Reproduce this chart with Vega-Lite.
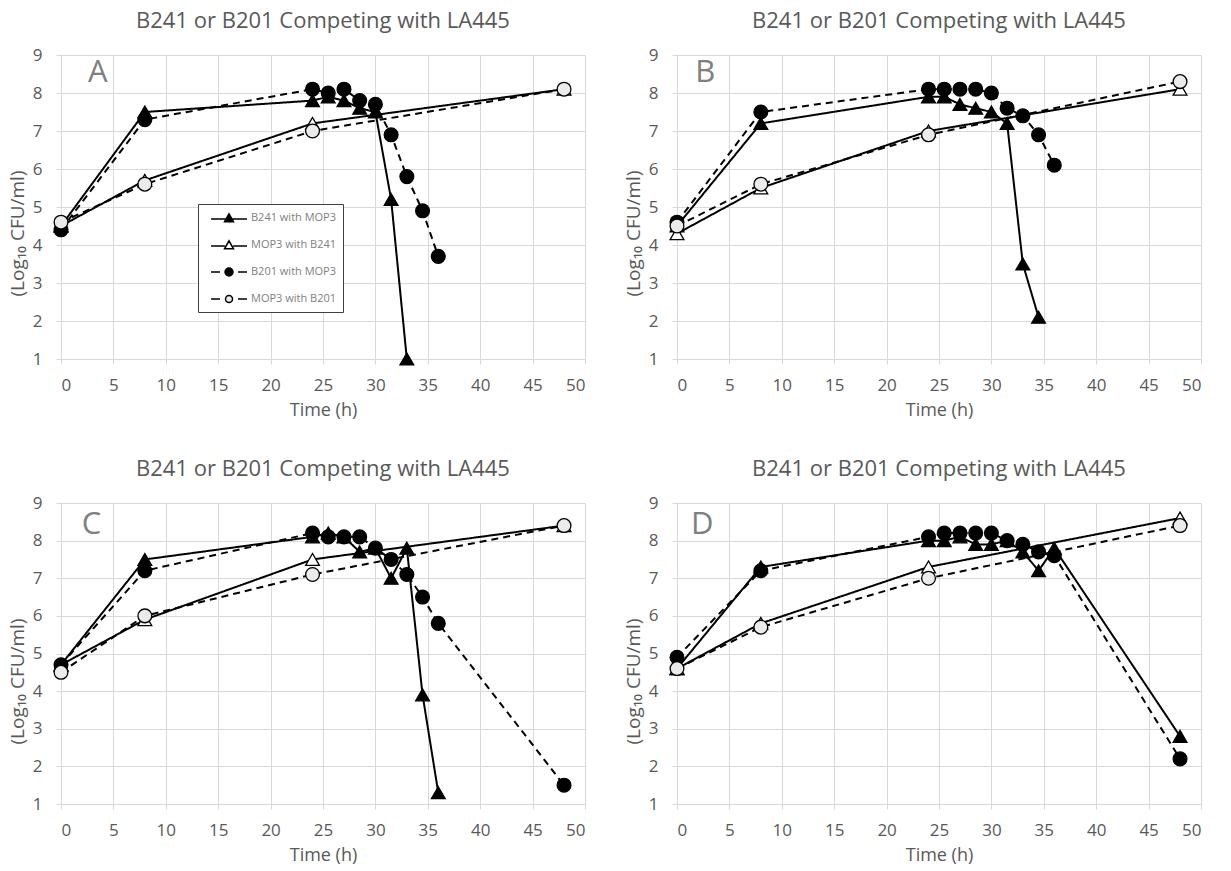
{
  "$schema": "https://vega.github.io/schema/vega-lite/v6.json",
  "background": "white",
  "padding": {"left": 8, "top": 10, "right": 5, "bottom": 5},
  "datasets": {
    "A": [
      {"series": "B241 with MOP3", "t": 0, "v": 4.5},
      {"series": "B241 with MOP3", "t": 8, "v": 7.5},
      {"series": "B241 with MOP3", "t": 24, "v": 7.8},
      {"series": "B241 with MOP3", "t": 25.5, "v": 7.9},
      {"series": "B241 with MOP3", "t": 27, "v": 7.8},
      {"series": "B241 with MOP3", "t": 28.5, "v": 7.6},
      {"series": "B241 with MOP3", "t": 30, "v": 7.5},
      {"series": "B241 with MOP3", "t": 31.5, "v": 5.2},
      {"series": "B241 with MOP3", "t": 33, "v": 1.0},
      {"series": "MOP3 with B241", "t": 0, "v": 4.5},
      {"series": "MOP3 with B241", "t": 8, "v": 5.7},
      {"series": "MOP3 with B241", "t": 24, "v": 7.2},
      {"series": "MOP3 with B241", "t": 48, "v": 8.1},
      {"series": "B201 with MOP3", "t": 0, "v": 4.4},
      {"series": "B201 with MOP3", "t": 8, "v": 7.3},
      {"series": "B201 with MOP3", "t": 24, "v": 8.1},
      {"series": "B201 with MOP3", "t": 25.5, "v": 8.0},
      {"series": "B201 with MOP3", "t": 27, "v": 8.1},
      {"series": "B201 with MOP3", "t": 28.5, "v": 7.8},
      {"series": "B201 with MOP3", "t": 30, "v": 7.7},
      {"series": "B201 with MOP3", "t": 31.5, "v": 6.9},
      {"series": "B201 with MOP3", "t": 33, "v": 5.8},
      {"series": "B201 with MOP3", "t": 34.5, "v": 4.9},
      {"series": "B201 with MOP3", "t": 36, "v": 3.7},
      {"series": "MOP3 with B201", "t": 0, "v": 4.6},
      {"series": "MOP3 with B201", "t": 8, "v": 5.6},
      {"series": "MOP3 with B201", "t": 24, "v": 7.0},
      {"series": "MOP3 with B201", "t": 48, "v": 8.1}
    ],
    "B": [
      {"series": "B241 with MOP3", "t": 0, "v": 4.5},
      {"series": "B241 with MOP3", "t": 8, "v": 7.2},
      {"series": "B241 with MOP3", "t": 24, "v": 7.9},
      {"series": "B241 with MOP3", "t": 25.5, "v": 7.9},
      {"series": "B241 with MOP3", "t": 27, "v": 7.7},
      {"series": "B241 with MOP3", "t": 28.5, "v": 7.6},
      {"series": "B241 with MOP3", "t": 30, "v": 7.5},
      {"series": "B241 with MOP3", "t": 31.5, "v": 7.2},
      {"series": "B241 with MOP3", "t": 33, "v": 3.5},
      {"series": "B241 with MOP3", "t": 34.5, "v": 2.1},
      {"series": "MOP3 with B241", "t": 0, "v": 4.3},
      {"series": "MOP3 with B241", "t": 8, "v": 5.5},
      {"series": "MOP3 with B241", "t": 24, "v": 7.0},
      {"series": "MOP3 with B241", "t": 48, "v": 8.1},
      {"series": "B201 with MOP3", "t": 0, "v": 4.6},
      {"series": "B201 with MOP3", "t": 8, "v": 7.5},
      {"series": "B201 with MOP3", "t": 24, "v": 8.1},
      {"series": "B201 with MOP3", "t": 25.5, "v": 8.1},
      {"series": "B201 with MOP3", "t": 27, "v": 8.1},
      {"series": "B201 with MOP3", "t": 28.5, "v": 8.1},
      {"series": "B201 with MOP3", "t": 30, "v": 8.0},
      {"series": "B201 with MOP3", "t": 31.5, "v": 7.6},
      {"series": "B201 with MOP3", "t": 33, "v": 7.4},
      {"series": "B201 with MOP3", "t": 34.5, "v": 6.9},
      {"series": "B201 with MOP3", "t": 36, "v": 6.1},
      {"series": "MOP3 with B201", "t": 0, "v": 4.5},
      {"series": "MOP3 with B201", "t": 8, "v": 5.6},
      {"series": "MOP3 with B201", "t": 24, "v": 6.9},
      {"series": "MOP3 with B201", "t": 48, "v": 8.3}
    ],
    "C": [
      {"series": "B241 with MOP3", "t": 0, "v": 4.7},
      {"series": "B241 with MOP3", "t": 8, "v": 7.5},
      {"series": "B241 with MOP3", "t": 24, "v": 8.1},
      {"series": "B241 with MOP3", "t": 25.5, "v": 8.2},
      {"series": "B241 with MOP3", "t": 27, "v": 8.1},
      {"series": "B241 with MOP3", "t": 28.5, "v": 7.7},
      {"series": "B241 with MOP3", "t": 30, "v": 7.8},
      {"series": "B241 with MOP3", "t": 31.5, "v": 7.0},
      {"series": "B241 with MOP3", "t": 33, "v": 7.8},
      {"series": "B241 with MOP3", "t": 34.5, "v": 3.9},
      {"series": "B241 with MOP3", "t": 36, "v": 1.3},
      {"series": "MOP3 with B241", "t": 0, "v": 4.7},
      {"series": "MOP3 with B241", "t": 8, "v": 5.9},
      {"series": "MOP3 with B241", "t": 24, "v": 7.5},
      {"series": "MOP3 with B241", "t": 48, "v": 8.4},
      {"series": "B201 with MOP3", "t": 0, "v": 4.7},
      {"series": "B201 with MOP3", "t": 8, "v": 7.2},
      {"series": "B201 with MOP3", "t": 24, "v": 8.2},
      {"series": "B201 with MOP3", "t": 25.5, "v": 8.1},
      {"series": "B201 with MOP3", "t": 27, "v": 8.1},
      {"series": "B201 with MOP3", "t": 28.5, "v": 8.1},
      {"series": "B201 with MOP3", "t": 30, "v": 7.8},
      {"series": "B201 with MOP3", "t": 31.5, "v": 7.5},
      {"series": "B201 with MOP3", "t": 33, "v": 7.1},
      {"series": "B201 with MOP3", "t": 34.5, "v": 6.5},
      {"series": "B201 with MOP3", "t": 36, "v": 5.8},
      {"series": "B201 with MOP3", "t": 48, "v": 1.5},
      {"series": "MOP3 with B201", "t": 0, "v": 4.5},
      {"series": "MOP3 with B201", "t": 8, "v": 6.0},
      {"series": "MOP3 with B201", "t": 24, "v": 7.1},
      {"series": "MOP3 with B201", "t": 48, "v": 8.4}
    ],
    "D": [
      {"series": "B241 with MOP3", "t": 0, "v": 4.6},
      {"series": "B241 with MOP3", "t": 8, "v": 7.3},
      {"series": "B241 with MOP3", "t": 24, "v": 8.0},
      {"series": "B241 with MOP3", "t": 25.5, "v": 8.0},
      {"series": "B241 with MOP3", "t": 27, "v": 8.1},
      {"series": "B241 with MOP3", "t": 28.5, "v": 7.9},
      {"series": "B241 with MOP3", "t": 30, "v": 7.9},
      {"series": "B241 with MOP3", "t": 31.5, "v": 8.0},
      {"series": "B241 with MOP3", "t": 33, "v": 7.7},
      {"series": "B241 with MOP3", "t": 34.5, "v": 7.2},
      {"series": "B241 with MOP3", "t": 36, "v": 7.8},
      {"series": "B241 with MOP3", "t": 48, "v": 2.8},
      {"series": "MOP3 with B241", "t": 0, "v": 4.6},
      {"series": "MOP3 with B241", "t": 8, "v": 5.8},
      {"series": "MOP3 with B241", "t": 24, "v": 7.3},
      {"series": "MOP3 with B241", "t": 48, "v": 8.6},
      {"series": "B201 with MOP3", "t": 0, "v": 4.9},
      {"series": "B201 with MOP3", "t": 8, "v": 7.2},
      {"series": "B201 with MOP3", "t": 24, "v": 8.1},
      {"series": "B201 with MOP3", "t": 25.5, "v": 8.2},
      {"series": "B201 with MOP3", "t": 27, "v": 8.2},
      {"series": "B201 with MOP3", "t": 28.5, "v": 8.2},
      {"series": "B201 with MOP3", "t": 30, "v": 8.2},
      {"series": "B201 with MOP3", "t": 31.5, "v": 8.0},
      {"series": "B201 with MOP3", "t": 33, "v": 7.9},
      {"series": "B201 with MOP3", "t": 34.5, "v": 7.7},
      {"series": "B201 with MOP3", "t": 36, "v": 7.6},
      {"series": "B201 with MOP3", "t": 48, "v": 2.2},
      {"series": "MOP3 with B201", "t": 0, "v": 4.6},
      {"series": "MOP3 with B201", "t": 8, "v": 5.7},
      {"series": "MOP3 with B201", "t": 24, "v": 7.0},
      {"series": "MOP3 with B201", "t": 48, "v": 8.4}
    ]
  },
  "config": {
    "view": {"stroke": null},
    "font": "Open Sans",
    "title": {"font": "Open Sans", "fontSize": 22, "fontWeight": "normal", "color": "#595959", "offset": 13, "anchor": "middle"},
    "axis": {
      "gridColor": "#d9d9d9", "domainColor": "#d9d9d9", "tickColor": "#d9d9d9", "tickSize": 5, "labelOverlap": false,
      "labelFont": "Open Sans", "labelFontSize": 17, "labelColor": "#595959",
      "titleFont": "Open Sans", "titleFontWeight": "normal", "titleColor": "#595959"
    }
  },
  "spacing": 39,
  "resolve": {"scale": {"fill": "independent", "shape": "independent", "strokeDash": "independent"}, "legend": {"fill": "independent", "shape": "independent", "strokeDash": "independent"}},
  "vconcat": [
    {
      "spacing": 38,
      "resolve": {"scale": {"fill": "independent", "shape": "independent", "strokeDash": "independent"}, "legend": {"fill": "independent", "shape": "independent", "strokeDash": "independent"}},
      "hconcat": [
        {
          "width": 524, "height": 304,
          "title": "B241 or B201 Competing with LA445",
          "data": {"name": "A"},
          "layer": [
            {
              "mark": {"type": "line", "strokeWidth": 2, "color": "black"},
              "encoding": {
                "x": {"field": "t", "type": "quantitative", "scale": {"domain": [0, 50], "nice": false}, "axis": {"values": [0,5,10,15,20,25,30,35,40,45,50], "tickCount": 12, "title": "Time (h)", "titleFontSize": 18, "labelPadding": 13, "titlePadding": 8, "labelOverlap": false}},
                "y": {"field": "v", "type": "quantitative", "scale": {"domain": [1, 9], "nice": false}, "axis": {"values": [1,2,3,4,5,6,7,8,9], "tickCount": 10, "title": "(Log₁₀ CFU/ml)", "titleFontSize": 19, "labelPadding": 14, "titleX": -44, "titleY": 178, "titleBaseline": "middle", "labelOverlap": false}},
                "detail": {"field": "series"},
                "strokeDash": {"field": "series", "type": "nominal", "scale": {"domain": ["MOP3 with B201", "B201 with MOP3", "MOP3 with B241", "B241 with MOP3"], "range": [[7,5],[7,5],[1,0],[1,0]]}, "legend": null}
              }
            },
            {
              "mark": {"type": "point", "filled": true, "opacity": 1, "size": 190, "stroke": "black", "strokeWidth": 1.3},
              "encoding": {
                "x": {"field": "t", "type": "quantitative"},
                "y": {"field": "v", "type": "quantitative"},
                "shape": {"field": "series", "type": "nominal", "scale": {"domain": ["MOP3 with B241", "B241 with MOP3", "MOP3 with B201", "B201 with MOP3"], "range": ["triangle-up", "triangle-up", "circle", "circle"]}, "legend": null},
                "fill": {"field": "series", "type": "nominal", "scale": {"domain": ["B241 with MOP3", "MOP3 with B241", "B201 with MOP3", "MOP3 with B201"], "range": ["black", "white", "black", "#ebebeb"]},
                  "legend": {
                    "title": null, "orient": "none", "legendX": 137, "legendY": 149,
                    "strokeColor": "#404040", "fillColor": "white", "padding": 6,
                    "symbolSize": 196, "symbolStrokeWidth": 1.5, "symbolStrokeColor": "black", "symbolOpacity": 1,
                    "labelFont": "Open Sans", "labelFontSize": 11, "labelColor": "#808080", "labelOffset": 31, "rowPadding": 12,
                    "encode": {"symbols": {"update": {
                      "shape": {"signal": "datum.value === 'B241 with MOP3' ? 'M-0.14,0.15H5M2.43,-0.6L3.07,0.55L1.79,0.55Z' : datum.value === 'MOP3 with B241' ? 'M-0.14,0.15H1.85M3.01,0.15H5M2.43,-0.6L3.07,0.55L1.79,0.55Z' : datum.value === 'B201 with MOP3' ? 'M-0.14,0H1.14M3.71,0H5M3,0A0.57,0.57 0 1,1 1.86,0A0.57,0.57 0 1,1 3,0Z' : 'M-0.14,0H1.14M3.71,0H5M2.93,0A0.5,0.5 0 1,1 1.93,0A0.5,0.5 0 1,1 2.93,0Z'"},
                      "stroke": {"value": "black"},
                      "strokeWidth": {"value": 1.5}
                    }}}
                  }
                }
              }
            },
            {
              "data": {"values": [{}]},
              "mark": {"type": "text", "fontSize": 31, "color": "#808080", "align": "center", "baseline": "middle", "font": "Open Sans"},
              "encoding": {"x": {"datum": 3.5}, "y": {"datum": 8.53}, "text": {"value": "A"}}
            }
          ]
        },
        {
          "width": 524, "height": 304,
          "title": "B241 or B201 Competing with LA445",
          "data": {"name": "B"},
          "layer": [
            {
              "mark": {"type": "line", "strokeWidth": 2, "color": "black"},
              "encoding": {
                "x": {"field": "t", "type": "quantitative", "scale": {"domain": [0, 50], "nice": false}, "axis": {"values": [0,5,10,15,20,25,30,35,40,45,50], "tickCount": 12, "title": "Time (h)", "titleFontSize": 18, "labelPadding": 13, "titlePadding": 8, "labelOverlap": false}},
                "y": {"field": "v", "type": "quantitative", "scale": {"domain": [1, 9], "nice": false}, "axis": {"values": [1,2,3,4,5,6,7,8,9], "tickCount": 10, "title": "(Log₁₀ CFU/ml)", "titleFontSize": 19, "labelPadding": 14, "titleX": -44, "titleY": 178, "titleBaseline": "middle", "labelOverlap": false}},
                "detail": {"field": "series"},
                "strokeDash": {"field": "series", "type": "nominal", "scale": {"domain": ["MOP3 with B201", "B201 with MOP3", "MOP3 with B241", "B241 with MOP3"], "range": [[7,5],[7,5],[1,0],[1,0]]}, "legend": null}
              }
            },
            {
              "mark": {"type": "point", "filled": true, "opacity": 1, "size": 190, "stroke": "black", "strokeWidth": 1.3},
              "encoding": {
                "x": {"field": "t", "type": "quantitative"},
                "y": {"field": "v", "type": "quantitative"},
                "shape": {"field": "series", "type": "nominal", "scale": {"domain": ["B241 with MOP3", "MOP3 with B241", "B201 with MOP3", "MOP3 with B201"], "range": ["triangle-up", "triangle-up", "circle", "circle"]}, "legend": null},
                "fill": {"field": "series", "type": "nominal", "scale": {"domain": ["B241 with MOP3", "MOP3 with B241", "B201 with MOP3", "MOP3 with B201"], "range": ["black", "white", "black", "#ebebeb"]}, "legend": null}
              }
            },
            {
              "data": {"values": [{}]},
              "mark": {"type": "text", "fontSize": 31, "color": "#808080", "align": "center", "baseline": "middle", "font": "Open Sans"},
              "encoding": {"x": {"datum": 2.7}, "y": {"datum": 8.53}, "text": {"value": "B"}}
            }
          ]
        }
      ]
    },
    {
      "spacing": 38,
      "resolve": {"scale": {"fill": "independent", "shape": "independent", "strokeDash": "independent"}, "legend": {"fill": "independent", "shape": "independent", "strokeDash": "independent"}},
      "hconcat": [
        {
          "width": 524, "height": 301,
          "title": "B241 or B201 Competing with LA445",
          "data": {"name": "C"},
          "layer": [
            {
              "mark": {"type": "line", "strokeWidth": 2, "color": "black"},
              "encoding": {
                "x": {"field": "t", "type": "quantitative", "scale": {"domain": [0, 50], "nice": false}, "axis": {"values": [0,5,10,15,20,25,30,35,40,45,50], "tickCount": 12, "title": "Time (h)", "titleFontSize": 18, "labelPadding": 13, "titlePadding": 8, "labelOverlap": false}},
                "y": {"field": "v", "type": "quantitative", "scale": {"domain": [1, 9], "nice": false}, "axis": {"values": [1,2,3,4,5,6,7,8,9], "tickCount": 10, "title": "(Log₁₀ CFU/ml)", "titleFontSize": 19, "labelPadding": 14, "titleX": -44, "titleY": 178, "titleBaseline": "middle", "labelOverlap": false}},
                "detail": {"field": "series"},
                "strokeDash": {"field": "series", "type": "nominal", "scale": {"domain": ["MOP3 with B201", "B201 with MOP3", "MOP3 with B241", "B241 with MOP3"], "range": [[7,5],[7,5],[1,0],[1,0]]}, "legend": null}
              }
            },
            {
              "mark": {"type": "point", "filled": true, "opacity": 1, "size": 190, "stroke": "black", "strokeWidth": 1.3},
              "encoding": {
                "x": {"field": "t", "type": "quantitative"},
                "y": {"field": "v", "type": "quantitative"},
                "shape": {"field": "series", "type": "nominal", "scale": {"domain": ["B241 with MOP3", "MOP3 with B241", "B201 with MOP3", "MOP3 with B201"], "range": ["triangle-up", "triangle-up", "circle", "circle"]}, "legend": null},
                "fill": {"field": "series", "type": "nominal", "scale": {"domain": ["B241 with MOP3", "MOP3 with B241", "B201 with MOP3", "MOP3 with B201"], "range": ["black", "white", "black", "#ebebeb"]}, "legend": null}
              }
            },
            {
              "data": {"values": [{}]},
              "mark": {"type": "text", "fontSize": 31, "color": "#808080", "align": "center", "baseline": "middle", "font": "Open Sans"},
              "encoding": {"x": {"datum": 2.9}, "y": {"datum": 8.42}, "text": {"value": "C"}}
            }
          ]
        },
        {
          "width": 524, "height": 301,
          "title": "B241 or B201 Competing with LA445",
          "data": {"name": "D"},
          "layer": [
            {
              "mark": {"type": "line", "strokeWidth": 2, "color": "black"},
              "encoding": {
                "x": {"field": "t", "type": "quantitative", "scale": {"domain": [0, 50], "nice": false}, "axis": {"values": [0,5,10,15,20,25,30,35,40,45,50], "tickCount": 12, "title": "Time (h)", "titleFontSize": 18, "labelPadding": 13, "titlePadding": 8, "labelOverlap": false}},
                "y": {"field": "v", "type": "quantitative", "scale": {"domain": [1, 9], "nice": false}, "axis": {"values": [1,2,3,4,5,6,7,8,9], "tickCount": 10, "title": "(Log₁₀ CFU/ml)", "titleFontSize": 19, "labelPadding": 14, "titleX": -44, "titleY": 178, "titleBaseline": "middle", "labelOverlap": false}},
                "detail": {"field": "series"},
                "strokeDash": {"field": "series", "type": "nominal", "scale": {"domain": ["MOP3 with B201", "B201 with MOP3", "MOP3 with B241", "B241 with MOP3"], "range": [[7,5],[7,5],[1,0],[1,0]]}, "legend": null}
              }
            },
            {
              "mark": {"type": "point", "filled": true, "opacity": 1, "size": 190, "stroke": "black", "strokeWidth": 1.3},
              "encoding": {
                "x": {"field": "t", "type": "quantitative"},
                "y": {"field": "v", "type": "quantitative"},
                "shape": {"field": "series", "type": "nominal", "scale": {"domain": ["B241 with MOP3", "MOP3 with B241", "B201 with MOP3", "MOP3 with B201"], "range": ["triangle-up", "triangle-up", "circle", "circle"]}, "legend": null},
                "fill": {"field": "series", "type": "nominal", "scale": {"domain": ["B241 with MOP3", "MOP3 with B241", "B201 with MOP3", "MOP3 with B201"], "range": ["black", "white", "black", "#ebebeb"]}, "legend": null}
              }
            },
            {
              "data": {"values": [{}]},
              "mark": {"type": "text", "fontSize": 31, "color": "#808080", "align": "center", "baseline": "middle", "font": "Open Sans"},
              "encoding": {"x": {"datum": 2.4}, "y": {"datum": 8.42}, "text": {"value": "D"}}
            }
          ]
        }
      ]
    }
  ]
}
